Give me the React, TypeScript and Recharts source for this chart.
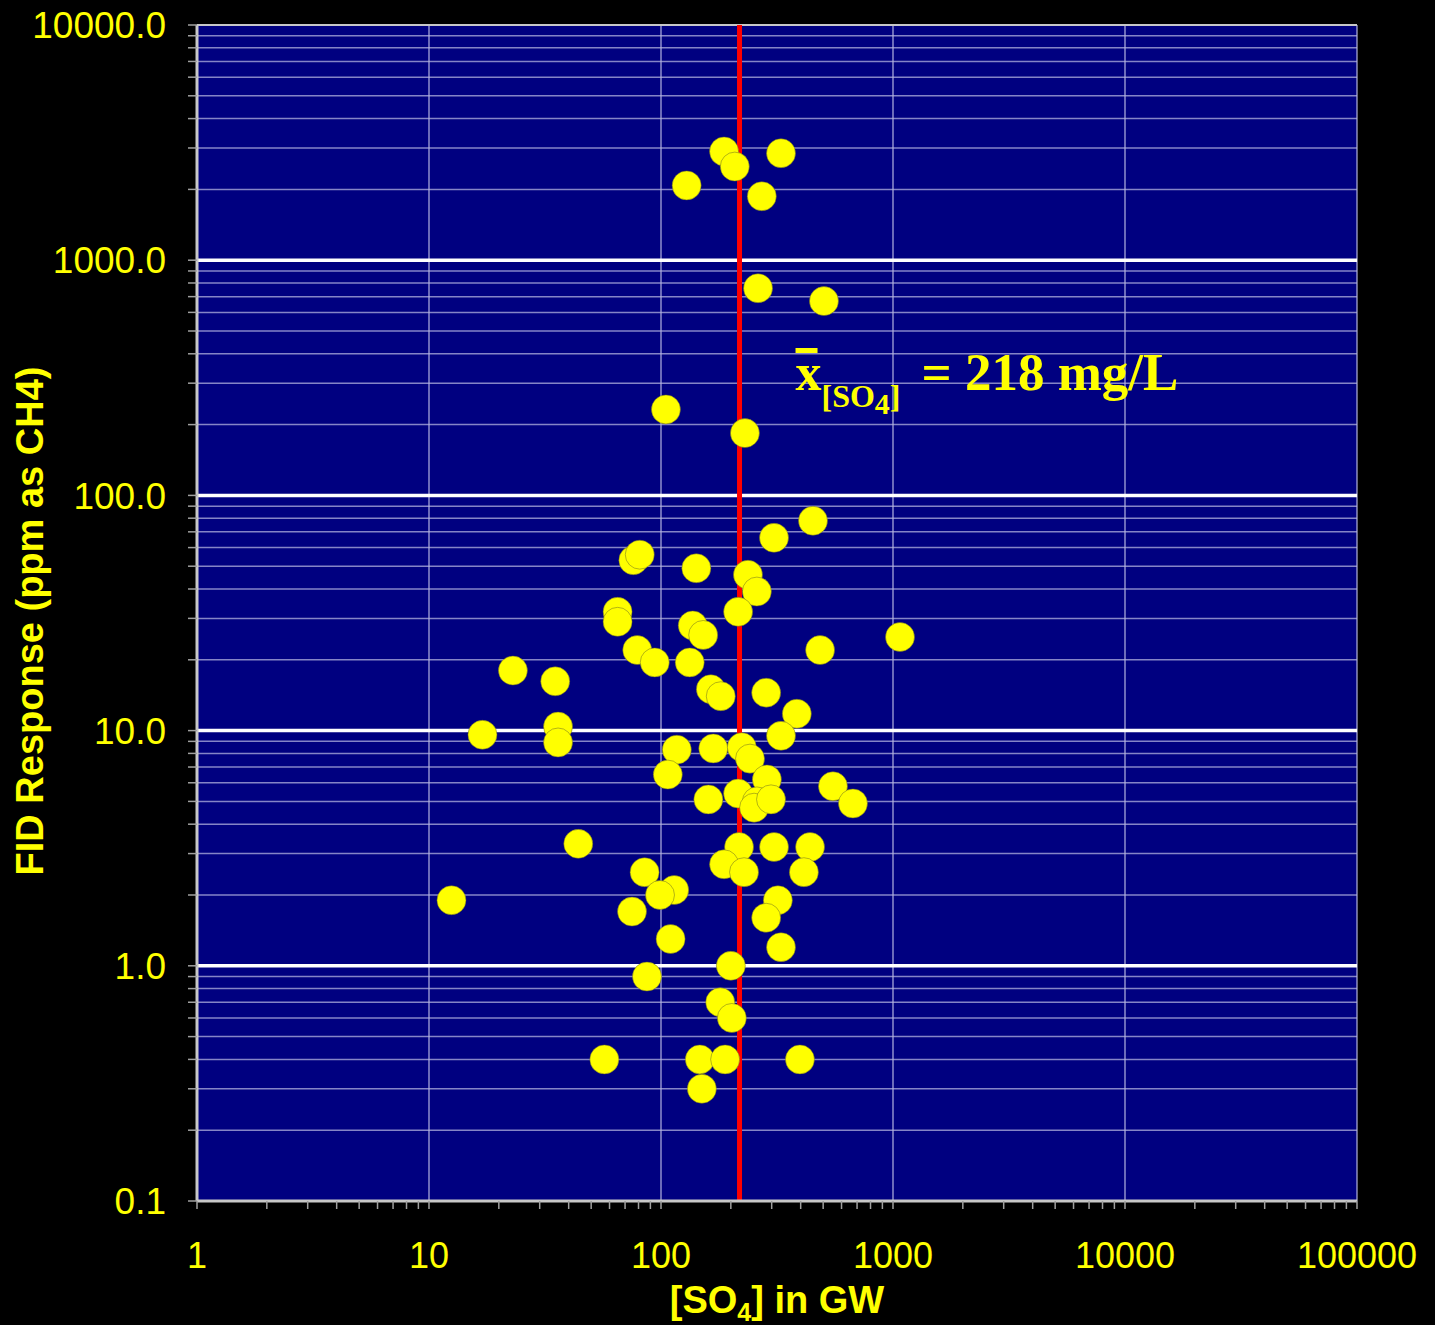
import {
  CartesianGrid,
  Label,
  ReferenceLine,
  Scatter,
  ScatterChart,
  XAxis,
  YAxis,
} from 'recharts';

const SANS = '"Liberation Sans", Arial, sans-serif';
const SERIF = '"Liberation Serif", "Times New Roman", serif';
const YELLOW = '#ffff00';

// [SO4] in groundwater (mg/L)
const SO4 = [
  187, 329, 208, 129, 272, 262, 504, 105, 230, 452,
  307, 76, 81, 142, 237, 259, 215, 65, 65, 137,
  152, 1072, 485, 79, 94, 133, 23, 35, 164, 181,
  284, 385, 36, 17, 36, 329, 117, 168, 223, 242,
  107, 286, 551, 672, 160, 215, 259, 252, 298, 44,
  217, 307, 439, 85, 187, 228, 413, 12.5, 114, 99,
  319, 75, 284, 110, 329, 200, 87, 180, 202, 57,
  147, 189, 397, 150,
];

// FID response (ppm as CH4)
const FID = [
  2900, 2850, 2500, 2080, 1870, 760, 670, 232, 184, 78,
  66, 53, 56, 49, 46, 39, 32, 32, 29, 28,
  25.5, 25, 22, 22, 19.5, 19.5, 18, 16.2, 15, 14,
  14.5, 11.8, 10.4, 9.6, 8.9, 9.5, 8.3, 8.4, 8.5, 7.6,
  6.5, 6.2, 5.8, 4.9, 5.1, 5.4, 5.0, 4.7, 5.1, 3.3,
  3.2, 3.2, 3.2, 2.5, 2.7, 2.5, 2.5, 1.9, 2.1, 2.0,
  1.9, 1.7, 1.6, 1.3, 1.2, 1.0, 0.9, 0.7, 0.6, 0.4,
  0.4, 0.4, 0.4, 0.3,
];

const MEAN_SO4 = 218;

const X_MAJOR = [1, 10, 100, 1000, 10000, 100000];
const Y_MAJOR = [0.1, 1, 10, 100, 1000, 10000];

// 2..9 between each decade, for minor ticks / grid
const minorsOf = (majors: number[]) =>
  majors.slice(0, -1).flatMap((m) => [2, 3, 4, 5, 6, 7, 8, 9].map((k) => k * m));

const X_TICKS = [...X_MAJOR, ...minorsOf(X_MAJOR)].sort((a, b) => a - b);
const Y_TICKS = [...Y_MAJOR, ...minorsOf(Y_MAJOR)].sort((a, b) => a - b);

const isMajor = (v: number) => Math.abs(Math.log10(v) - Math.round(Math.log10(v))) < 1e-9;

const data = SO4.map((x, i) => ({ so4: x, fid: FID[i] }));

function XTick({ x, y, payload }: any) {
  if (!isMajor(payload.value)) return null;
  return (
    <text x={x} y={y} dy="0.71em" textAnchor="middle" fill={YELLOW} fontSize={36} fontFamily={SANS}>
      {String(payload.value)}
    </text>
  );
}

function YTick({ x, y, payload }: any) {
  if (!isMajor(payload.value)) return null;
  return (
    <text x={x} y={y} dy="0.355em" textAnchor="end" fill={YELLOW} fontSize={37} fontFamily={SANS}>
      {payload.value.toFixed(1)}
    </text>
  );
}

function XTitle({ viewBox }: any) {
  const cx = viewBox.x + viewBox.width / 2;
  return (
    <text x={cx} y={viewBox.y + 112} textAnchor="middle" fill={YELLOW} fontSize={38} fontWeight="bold" fontFamily={SANS}>
      [SO<tspan fontSize={25} dy={8}>4</tspan>
      <tspan dy={-8}>] in GW</tspan>
    </text>
  );
}

function YTitle({ viewBox }: any) {
  const cx = viewBox.x + 30;
  const cy = viewBox.y + viewBox.height / 2 + 8;
  return (
    <text
      x={cx}
      y={cy}
      transform={`rotate(-90, ${cx}, ${cy})`}
      textAnchor="middle"
      dominantBaseline="central"
      fill={YELLOW}
      fontSize={38}
      fontWeight="bold"
      fontFamily={SANS}
    >
      FID Response (ppm as CH4)
    </text>
  );
}

function MeanLabel({ viewBox }: any) {
  const x0 = viewBox.x + 56;
  const base = 390;
  return (
    <g fill={YELLOW} fontFamily={SERIF}>
      <rect x={x0} y={348} width={22} height={5} />
      <text x={x0} y={base} fontSize={52} fontWeight="bold">x</text>
      <text x={x0 + 26} y={base + 17} fontSize={32} fontWeight="bold">
        [SO<tspan fontSize={30} dy={7}>4</tspan>
        <tspan dy={-7}>]</tspan>
      </text>
      <text x={x0 + 126} y={base} fontSize={53} fontWeight="bold">= 218 mg/L</text>
    </g>
  );
}

const Dot = (props: any) => (
  <circle cx={props.cx} cy={props.cy} r={14.5} fill={YELLOW} stroke="#6b6b20" strokeWidth={0.5} />
);

export default function App() {
  return (
    <div style={{ position: 'absolute', left: 0, top: 0, width: 1435, height: 1325, background: '#000' }}>
      <ScatterChart width={1435} height={1325} margin={{ top: 25, right: 78, bottom: 0, left: 0 }}>
        <CartesianGrid
          fill="#000080"
          vertical={false}
          stroke="#9c9cd4"
          strokeWidth={1.5}
          strokeOpacity={0.85}
        />
        <XAxis
          type="number"
          dataKey="so4"
          scale="log"
          domain={[1, 100000]}
          ticks={X_TICKS}
          interval={0}
          allowDataOverflow
          height={124}
          tick={<XTick />}
          tickSize={8}
          tickMargin={33}
          tickLine={{ stroke: '#a0a0a0', strokeWidth: 1.5 }}
          axisLine={{ stroke: '#c8c8c8', strokeWidth: 3 }}
        >
          <Label content={<XTitle />} />
        </XAxis>
        <YAxis
          type="number"
          dataKey="fid"
          scale="log"
          domain={[0.1, 10000]}
          ticks={Y_TICKS}
          interval={0}
          allowDataOverflow
          width={197}
          tick={<YTick />}
          tickSize={9}
          tickMargin={22}
          tickLine={{ stroke: '#a0a0a0', strokeWidth: 1.5 }}
          axisLine={{ stroke: '#c8c8c8', strokeWidth: 3 }}
        >
          <Label content={<YTitle />} />
        </YAxis>
        {X_MAJOR.slice(1).map((v) => (
          <ReferenceLine key={'vx' + v} x={v} stroke="#b4b4e0" strokeWidth={1.2} />
        ))}
        {Y_MAJOR.slice(1, -1).map((v) => (
          <ReferenceLine key={'hy' + v} y={v} stroke="#ffffff" strokeWidth={3.5} />
        ))}
        <ReferenceLine y={10000} stroke="#c8c8c8" strokeWidth={2} />
        <Scatter data={data} shape={<Dot />} isAnimationActive={false} />
        <ReferenceLine x={MEAN_SO4} stroke="#ff0000" strokeWidth={5}>
          <Label content={<MeanLabel />} />
        </ReferenceLine>
      </ScatterChart>
    </div>
  );
}
